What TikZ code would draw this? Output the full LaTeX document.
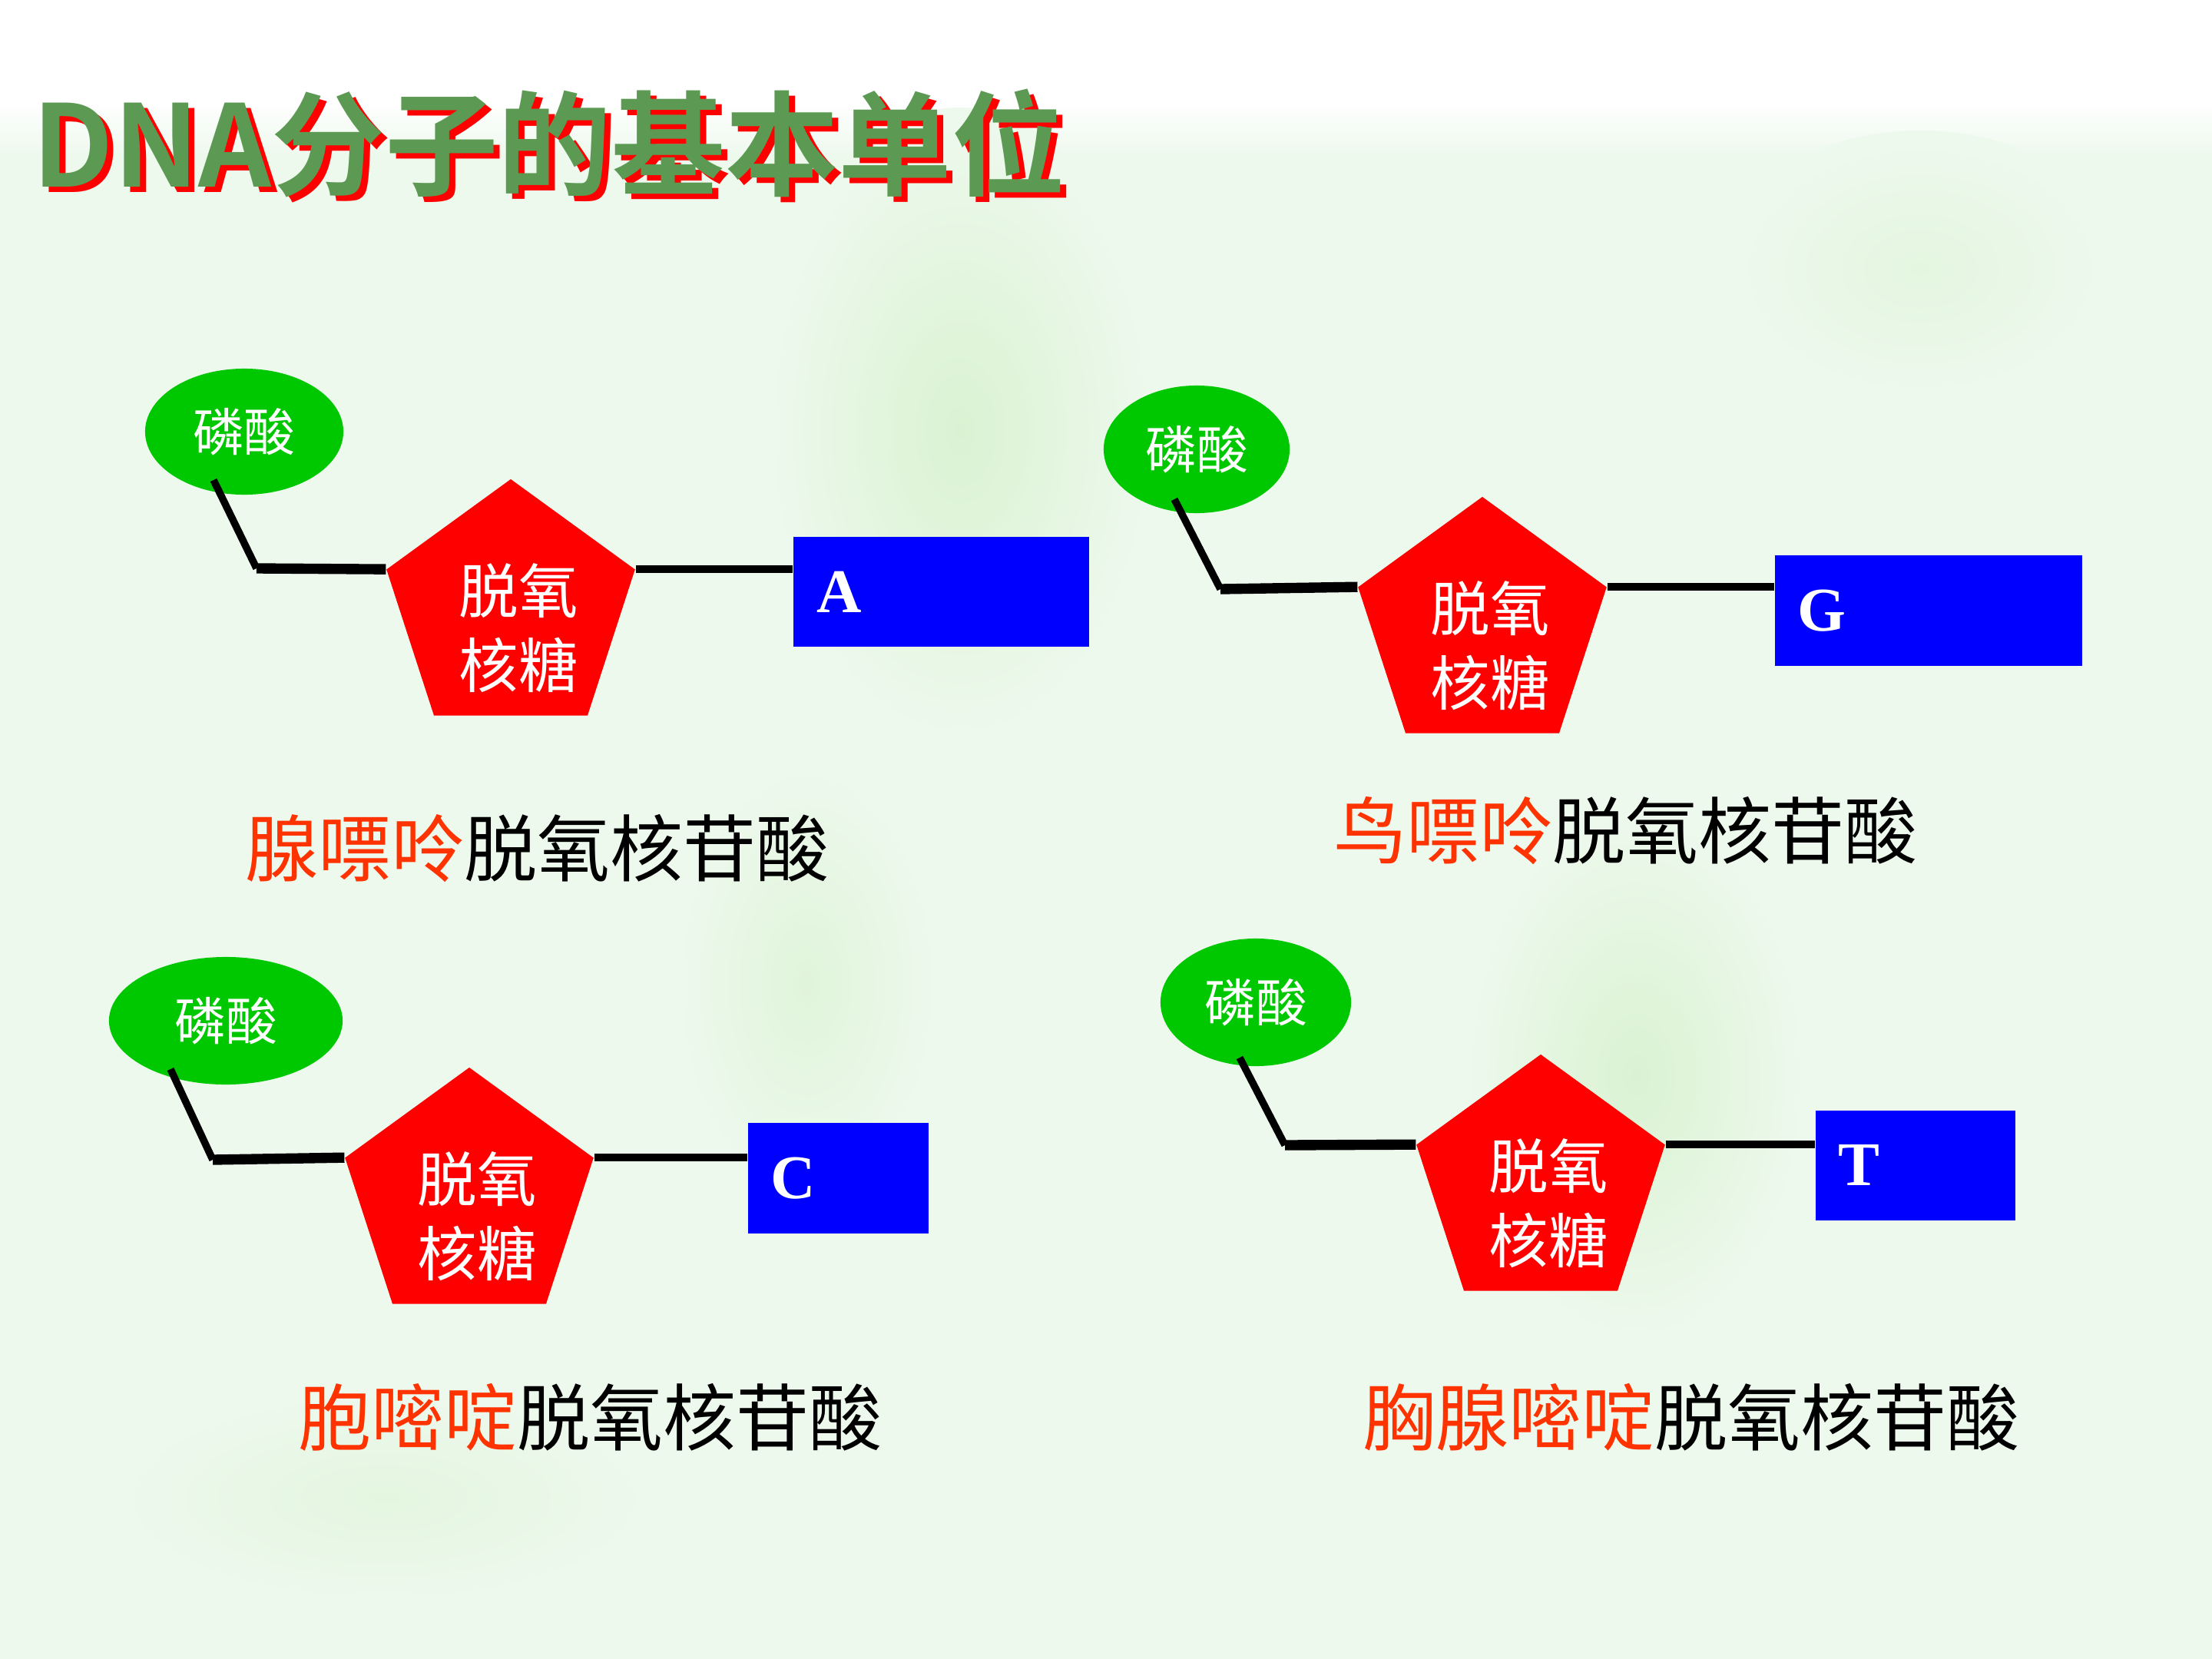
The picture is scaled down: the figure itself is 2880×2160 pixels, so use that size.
\documentclass[tikz,border=0pt]{standalone}
\usepackage{fontspec}
\setmainfont{Noto Sans CJK SC}
\newfontfamily\cjk{Noto Sans CJK SC}[BoldFont={Noto Sans CJK SC Bold}]
\newfontfamily\serifletters{Liberation Serif}
\usetikzlibrary{shapes.geometric}
\definecolor{bgc}{RGB}{238,249,238}
\definecolor{blobc}{RGB}{218,242,210}
\definecolor{titlegreen}{RGB}{92,154,84}
\definecolor{phosgreen}{RGB}{0,200,0}
\definecolor{labred}{RGB}{255,51,0}
\tikzset{
  phos/.style={ellipse, fill=phosgreen, inner sep=0pt, text=white, font=\cjk\fontsize{19}{22}\selectfont},
  sugar/.style={regular polygon, regular polygon sides=5, fill=red, minimum size=3.4cm, inner sep=0pt},
  sugartext/.style={text=white, align=center, inner sep=0pt, font=\cjk\fontsize{22}{27.6}\selectfont},
  basebox/.style={fill=blue, inner sep=0pt},
  baseletter/.style={text=white, inner sep=0pt, font=\serifletters\bfseries\fontsize{23}{23}\selectfont},
  bond/.style={line width=2.7pt, black},
  bondthick/.style={line width=3.8pt, black},
  namelabel/.style={anchor=base west, inner sep=0pt, text=black, font=\cjk\fontsize{27}{30}\selectfont},
  titletext/.style={anchor=base west, inner sep=0pt, font=\cjk\bfseries\fontsize{42}{46}\selectfont}
}
\newcommand{\titlestr}{DNA分子的基本单位}
\begin{document}
\begin{tikzpicture}[x=0.01cm, y=-0.01cm]
\useasboundingbox (0,0) rectangle (2880,2160);
% background
\fill[white] (0,0) rectangle (2880,2160);
\fill[bgc] (0,200) rectangle (2880,2160);
\shade[top color=white, bottom color=bgc] (0,130) rectangle (2880,201);
\shade[inner color=blobc, outer color=bgc] (1250,560) ellipse (260 and 420);
\shade[inner color=blobc, outer color=bgc] (2130,1400) ellipse (230 and 360);
\shade[inner color=blobc!70!bgc, outer color=bgc] (1050,1280) ellipse (180 and 300);
\shade[inner color=blobc!50!bgc, outer color=bgc] (2500,350) ellipse (260 and 180);
\shade[inner color=blobc!50!bgc, outer color=bgc] (500,1950) ellipse (380 and 150);

% title with red shadow
\node[titletext] (title) at (42,243) {\rlap{\hspace*{0.08cm}\raisebox{-0.07cm}{\textcolor{red}{\titlestr}}}\textcolor{titlegreen}{\titlestr}};

% ---------- Unit A ----------
\node[phos, minimum width=2.58cm, minimum height=1.64cm] (eA) at (318,562) {磷酸};
\node[sugar] (pA) at (665,794) {};
\node[sugartext, xshift=0.1cm, yshift=-0.24cm] (tA) at (pA.center) {脱氧\\核糖};
\node[basebox, minimum width=3.85cm, minimum height=1.43cm] (rA) at (1225.5,770.5) {};
\node[baseletter, xshift=0.6cm] (lA) at (rA.west) {A};
\coordinate (sA) at (278,625);
\coordinate (jA) at (334,740);
\draw[bond] (sA) -- (jA);
\draw[bondthick] (jA) -- (pA.corner 2);
\draw[bond] (pA.corner 5) -- (pA.corner 5 -| rA.west);
\node[namelabel] (nA) at (319,1140) {\textcolor{labred}{腺嘌呤}脱氧核苷酸};

% ---------- Unit G ----------
\node[phos, minimum width=2.42cm, minimum height=1.66cm] (eG) at (1558,585) {磷酸};
\node[sugar] (pG) at (1930,817) {};
\node[sugartext, xshift=0.1cm, yshift=-0.24cm] (tG) at (pG.center) {脱氧\\核糖};
\node[basebox, minimum width=4.0cm, minimum height=1.44cm] (rG) at (2511,795) {};
\node[baseletter, xshift=0.62cm] (lG) at (rG.west) {G};
\coordinate (sG) at (1529,650);
\coordinate (jG) at (1589,767);
\draw[bond] (sG) -- (jG);
\draw[bondthick] (jG) -- (pG.corner 2);
\draw[bond] (pG.corner 5) -- (pG.corner 5 -| rG.west);
\node[namelabel] (nG) at (1736,1117) {\textcolor{labred}{鸟嘌呤}脱氧核苷酸};

% ---------- Unit C ----------
\node[phos, minimum width=3.04cm, minimum height=1.66cm] (eC) at (294,1329) {磷酸};
\node[sugar] (pC) at (611,1560) {};
\node[sugartext, xshift=0.1cm, yshift=-0.24cm] (tC) at (pC.center) {脱氧\\核糖};
\node[basebox, minimum width=2.35cm, minimum height=1.44cm] (rC) at (1091.5,1534) {};
\node[baseletter, xshift=0.59cm] (lC) at (rC.west) {C};
\coordinate (sC) at (222,1392);
\coordinate (jC) at (277,1510);
\draw[bond] (sC) -- (jC);
\draw[bondthick] (jC) -- (pC.corner 2);
\draw[bond] (pC.corner 5) -- (pC.corner 5 -| rC.west);
\node[namelabel] (nC) at (388,1881) {\textcolor{labred}{胞嘧啶}脱氧核苷酸};

% ---------- Unit T ----------
\node[phos, minimum width=2.48cm, minimum height=1.66cm] (eT) at (1635,1305) {磷酸};
\node[sugar] (pT) at (2006,1543) {};
\node[sugartext, xshift=0.1cm, yshift=-0.24cm] (tT) at (pT.center) {脱氧\\核糖};
\node[basebox, minimum width=2.6cm, minimum height=1.43cm] (rT) at (2494,1517.5) {};
\node[baseletter, xshift=0.57cm] (lT) at (rT.west) {T};
\coordinate (sT) at (1614,1377);
\coordinate (jT) at (1673,1491);
\draw[bond] (sT) -- (jT);
\draw[bondthick] (jT) -- (pT.corner 2);
\draw[bond] (pT.corner 5) -- (pT.corner 5 -| rT.west);
\node[namelabel] (nT) at (1774,1881) {\textcolor{labred}{胸腺嘧啶}脱氧核苷酸};
\end{tikzpicture}
\end{document}
